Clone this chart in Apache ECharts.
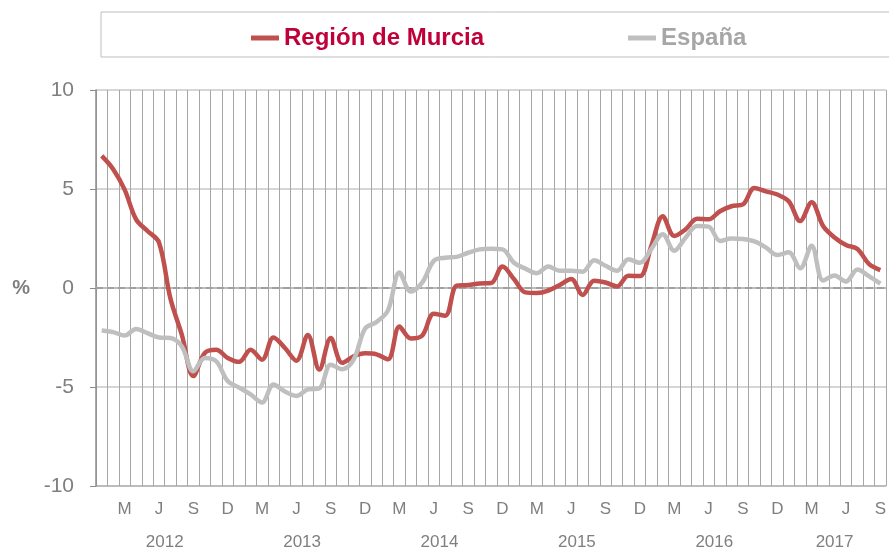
<!DOCTYPE html>
<html>
<head>
<meta charset="utf-8">
<script src="https://cdn.jsdelivr.net/npm/echarts@6/dist/echarts.min.js"></script>
<style>
html, body { margin: 0; padding: 0; background: #fff; }
#chart { width: 889px; height: 551px; }
</style>
</head>
<body>
<div id="chart"></div>
<script>
// monthly series, Jan 2012 - Sep 2017 (%)
var years = [2012, 2013, 2014, 2015, 2016, 2017];
var monthLetters = ["E", "F", "M", "A", "M", "J", "J", "A", "S", "O", "N", "D"];
var shownMonths = [2, 5, 8, 11];

var murcia = [
    6.67, 6.0, 4.97, 3.47, 2.88, 2.3, -0.53, -2.37, -4.45, -3.28, -3.12, -3.53,
    -3.73, -3.12, -3.62, -2.5, -3.03, -3.67, -2.37, -4.12, -2.53, -3.78, -3.45, -3.3,
    -3.35, -3.6, -1.95, -2.55, -2.4, -1.3, -1.4, 0.12, 0.15, 0.23, 0.25, 1.08,
    0.45, -0.22, -0.25, -0.13, 0.15, 0.45, -0.35, 0.37, 0.28, 0.08, 0.62, 0.6,
    2.13, 3.63, 2.63, 2.97, 3.5, 3.47, 3.88, 4.13, 4.22, 5.05, 4.88, 4.72,
    4.38, 3.38, 4.33, 3.13, 2.55, 2.17, 1.97, 1.22, 0.9
];
var espana = [
    -2.15, -2.23, -2.4, -2.07, -2.28, -2.5, -2.53, -2.95, -4.2, -3.53, -3.7, -4.7,
    -5.03, -5.37, -5.78, -4.87, -5.23, -5.45, -5.12, -5.07, -3.87, -4.1, -3.62, -2.05,
    -1.72, -1.13, 0.78, -0.18, 0.28, 1.37, 1.53, 1.57, 1.78, 1.95, 1.98, 1.95,
    1.28, 0.98, 0.75, 1.08, 0.87, 0.87, 0.82, 1.4, 1.12, 0.87, 1.45, 1.27,
    1.97, 2.72, 1.88, 2.55, 3.13, 3.1, 2.38, 2.5, 2.47, 2.35, 2.05, 1.67,
    1.8, 1.0, 2.13, 0.38, 0.63, 0.33, 0.93, 0.6, 0.22
];

// year labels sit in the middle of each year's span (in month units)
var yearCenters = [6, 18, 30, 42, 54, 64.5];

var categories = [];
years.forEach(function (y) {
    for (var m = 0; m < 12; m++) {
        if (categories.length < murcia.length) categories.push(y + "-" + m);
    }
});

var grey = "#7f7f7f";
var font = "Liberation Sans, Arial, sans-serif";

var myChart = echarts.init(document.getElementById("chart"));

var option = {
    animation: false,
    textStyle: { fontFamily: font },
    grid: { left: 96, right: 2, top: 90, bottom: 62 },
    graphic: [{
        type: "rect",
        shape: { x: 101, y: 12, width: 800, height: 45 },
        style: { fill: "none", stroke: "#bfbfbf", lineWidth: 1 }
    }],
    legend: {
        left: 246,
        top: 21,
        icon: "rect",
        itemWidth: 28,
        itemHeight: 5,
        itemGap: 144,
        textStyle: { fontSize: 24, fontWeight: "bold", fontFamily: font },
        data: [
            { name: "Región de Murcia", textStyle: { color: "#c00039" } },
            { name: "España", textStyle: { color: "#a6a6a6" } }
        ]
    },
    xAxis: [{
        type: "category",
        data: categories,
        boundaryGap: true,
        axisLine: { lineStyle: { color: "#a6a6a6", width: 1.5 } },
        axisTick: { show: false },
        splitLine: { show: true, interval: 0, lineStyle: { color: "#a6a6a6", width: 1 } },
        axisLabel: {
            interval: 0,
            margin: 15,
            fontSize: 17,
            color: grey,
            formatter: function (v) {
                var m = +v.split("-")[1];
                return shownMonths.indexOf(m) >= 0 ? monthLetters[m] : "";
            }
        }
    }, {
        type: "value",
        min: 0,
        max: murcia.length,
        position: "bottom",
        axisLine: { show: false },
        axisTick: { show: false },
        splitLine: { show: false },
        axisLabel: {
            customValues: yearCenters,
            margin: 48,
            fontSize: 17,
            color: grey,
            formatter: function (v) {
                return years[yearCenters.indexOf(v)];
            }
        }
    }],
    yAxis: [{
        type: "value",
        min: -10,
        max: 10,
        interval: 5,
        name: "%",
        nameLocation: "middle",
        nameRotate: 0,
        nameGap: 66,
        nameTextStyle: { fontSize: 20, color: grey, fontWeight: "bold", padding: [6, 0, 0, 0] },
        axisLine: { show: true, lineStyle: { color: "#8c8c8c", width: 1.5 } },
        axisTick: { show: true, length: 6, lineStyle: { color: "#8c8c8c" } },
        axisLabel: { fontSize: 21, color: grey, margin: 22 },
        splitLine: {
            lineStyle: {
                color: ["#a6a6a6", "#c8c8c8", "rgba(0,0,0,0)", "#c8c8c8", "#c8c8c8"],
                width: 1.5
            }
        }
    }, {
        // only for the dashed zero line
        type: "value",
        min: -10,
        max: 10,
        interval: 10,
        position: "left",
        axisLine: { show: false },
        axisTick: { show: false },
        axisLabel: { show: false },
        splitLine: {
            lineStyle: {
                color: ["rgba(0,0,0,0)", "#6f6f6f", "rgba(0,0,0,0)"],
                type: [7, 4],
                width: 1.5
            }
        }
    }],
    series: [{
        name: "Región de Murcia",
        type: "line",
        data: murcia,
        smooth: 0.35,
        symbol: "none",
        itemStyle: { color: "#c0504d" },
        lineStyle: { color: "#c0504d", width: 4.5 }
    }, {
        name: "España",
        type: "line",
        data: espana,
        smooth: 0.35,
        symbol: "none",
        itemStyle: { color: "#bfbfbf" },
        lineStyle: { color: "#bfbfbf", width: 4.5 }
    }]
};

myChart.setOption(option);
</script>
</body>
</html>
